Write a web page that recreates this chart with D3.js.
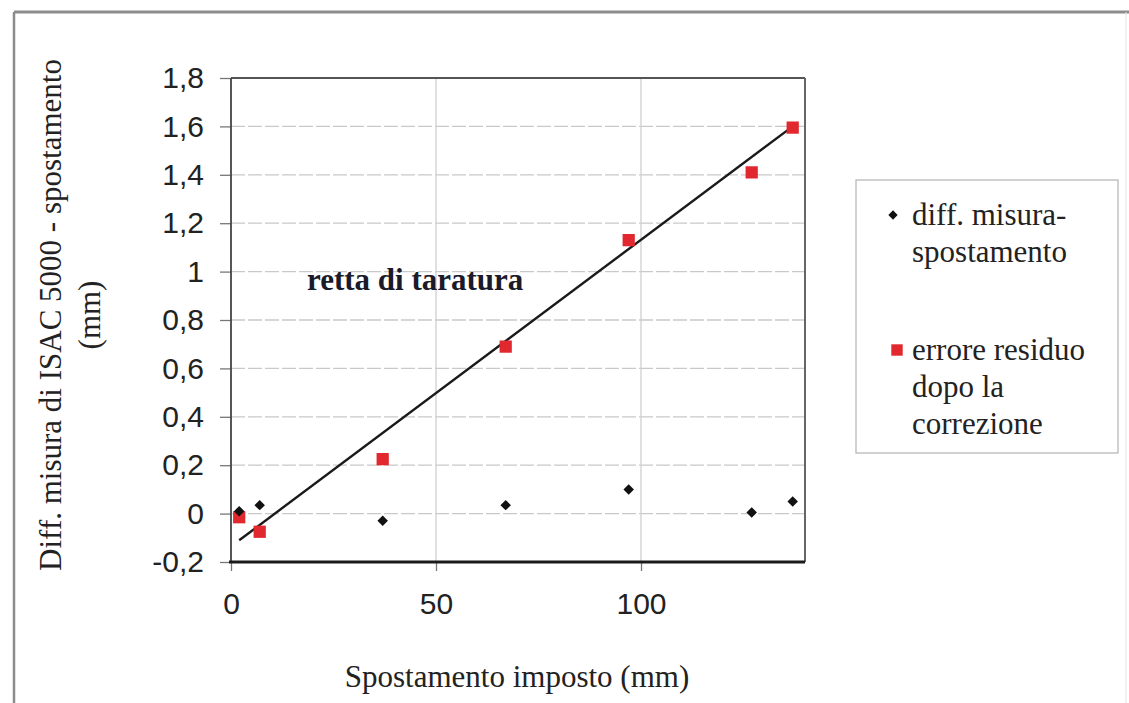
<!DOCTYPE html>
<html>
<head>
<meta charset="utf-8">
<script src="https://cdn.jsdelivr.net/npm/d3@7"></script>
<style>
  body { margin: 0; background: #fff; }
  svg { display: block; }
</style>
</head>
<body>
<div id="canvas"></div>
<script>
// data
var spostamento = [2, 7, 37, 67, 97, 127, 137];
var diffMisura = [0.01, 0.035, -0.03, 0.035, 0.1, 0.005, 0.05];
var erroreResiduo = [-0.015, -0.075, 0.225, 0.69, 1.13, 1.41, 1.595];
// retta di taratura, two end points
var rettaX = [2, 137];
var rettaY = [-0.11, 1.60];
var xTicks = [0, 50, 100];
var yTicks = [-0.2, 0, 0.2, 0.4, 0.6, 0.8, 1, 1.2, 1.4, 1.6, 1.8];
var legendLabels = [['diff. misura-', 'spostamento'], ['errore residuo', 'dopo la', 'correzione']];

var app = {
  W: 1129,
  H: 703,
  serif: '"Liberation Serif", "Times New Roman", serif',
  sans: '"Liberation Sans", Arial, sans-serif',
  red: '#e0282e',

  init: function() {
    app.svg = d3.select('#canvas').append('svg')
      .attr('width', app.W)
      .attr('height', app.H);

    app.x = d3.scaleLinear().domain([0, 140]).range([231, 805]);
    app.y = d3.scaleLinear().domain([-0.2, 1.8]).range([562, 78]);

    app.frame();
    app.grid();
    app.axes();
    app.marks();
    app.legend();
  },

  frame: function() {
    var s = app.svg;
    s.append('line').attr('x1', 14).attr('x2', 1129).attr('y1', 12).attr('y2', 12)
      .attr('stroke', '#8c8c8c').attr('stroke-width', 3);
    s.append('line').attr('x1', 14).attr('x2', 14).attr('y1', 12).attr('y2', 703)
      .attr('stroke', '#8c8c8c').attr('stroke-width', 2.5);
    s.append('line').attr('x1', 1126).attr('x2', 1126).attr('y1', 12).attr('y2', 703)
      .attr('stroke', '#e4e4e4').attr('stroke-width', 1);
  },

  grid: function() {
    var g = app.svg.append('g').attr('class', 'grid');
    g.selectAll('.hg').data(yTicks.slice(1, -1)).enter()
      .append('line').attr('class', 'hg')
      .attr('x1', app.x.range()[0]).attr('x2', app.x.range()[1])
      .attr('y1', function(d) { return app.y(d); })
      .attr('y2', function(d) { return app.y(d); })
      .attr('stroke', '#c9c9c9').attr('stroke-width', 1.3)
      .attr('stroke-dasharray', '14,3');
    g.selectAll('.vg').data(xTicks.slice(1)).enter()
      .append('line').attr('class', 'vg')
      .attr('y1', app.y.range()[0]).attr('y2', app.y.range()[1])
      .attr('x1', function(d) { return app.x(d); })
      .attr('x2', function(d) { return app.x(d); })
      .attr('stroke', '#cfcfcf').attr('stroke-width', 1.3);
  },

  axes: function() {
    var loc = d3.formatLocale({decimal: ',', thousands: '.', grouping: [3], currency: ['', ''], minus: '-'});
    var fmt = loc.format('.1~f');

    var yAxis = d3.axisLeft(app.y).tickValues(yTicks).tickFormat(fmt).tickSize(11).tickPadding(16);
    var gy = app.svg.append('g').attr('transform', 'translate(231,0)').call(yAxis);
    gy.select('.domain').remove();
    gy.selectAll('.tick line').attr('stroke', '#777').attr('stroke-width', 1.3);
    gy.selectAll('.tick text').attr('font-family', app.sans).attr('font-size', 30)
      .attr('fill', '#222');

    var xAxis = d3.axisBottom(app.x).tickValues(xTicks).tickSize(9).tickPadding(22);
    var gx = app.svg.append('g').attr('transform', 'translate(0,562)').call(xAxis);
    gx.select('.domain').remove();
    gx.selectAll('.tick line').attr('stroke', '#777').attr('stroke-width', 1.3);
    gx.selectAll('.tick text').attr('font-family', app.sans).attr('font-size', 30)
      .attr('fill', '#222');

    // plot border
    var x0 = app.x.range()[0], x1 = app.x.range()[1];
    var y0 = app.y.range()[1], y1 = app.y.range()[0];
    app.svg.append('line').attr('x1', x0).attr('x2', x1).attr('y1', y0).attr('y2', y0)
      .attr('stroke', '#555').attr('stroke-width', 2.2);
    app.svg.append('line').attr('x1', x1).attr('x2', x1).attr('y1', y0).attr('y2', y1)
      .attr('stroke', '#666').attr('stroke-width', 2);
    app.svg.append('line').attr('x1', x0).attr('x2', x0).attr('y1', y0).attr('y2', y1)
      .attr('stroke', '#444').attr('stroke-width', 1.8);
    app.svg.append('line').attr('x1', x0 - 2).attr('x2', x1).attr('y1', y1).attr('y2', y1)
      .attr('stroke', '#1a1a1a').attr('stroke-width', 3.2);

    // titles
    app.svg.append('text')
      .attr('x', 517).attr('y', 687)
      .attr('text-anchor', 'middle')
      .attr('font-family', app.serif).attr('font-size', 31).attr('fill', '#222')
      .text('Spostamento imposto (mm)');

    var yt = app.svg.append('g').attr('transform', 'translate(61,315) rotate(-90)');
    yt.append('text').attr('x', 0).attr('y', 0).attr('text-anchor', 'middle')
      .attr('font-family', app.serif).attr('font-size', 31).attr('fill', '#222')
      .text('Diff. misura di ISAC 5000 - spostamento');
    yt.append('text').attr('x', 0).attr('y', 39).attr('text-anchor', 'middle')
      .attr('font-family', app.serif).attr('font-size', 31).attr('fill', '#222')
      .text('(mm)');
  },

  marks: function() {
    var pts = spostamento.map(function(d, i) {
      return {x: d, diff: diffMisura[i], err: erroreResiduo[i]};
    });

    var retta = rettaX.map(function(d, i) { return [d, rettaY[i]]; });
    var line = d3.line()
      .x(function(d) { return app.x(d[0]); })
      .y(function(d) { return app.y(d[1]); });
    app.svg.append('path').datum(retta)
      .attr('d', line)
      .attr('fill', 'none').attr('stroke', '#1a1a1a').attr('stroke-width', 2.4);

    app.svg.selectAll('.err').data(pts).enter()
      .append('path').attr('class', 'err')
      .attr('d', d3.symbol(d3.symbolSquare, 150)())
      .attr('transform', function(d) { return 'translate(' + app.x(d.x) + ',' + app.y(d.err) + ')'; })
      .attr('fill', app.red);

    app.svg.selectAll('.diff').data(pts).enter()
      .append('path').attr('class', 'diff')
      .attr('d', d3.symbol(d3.symbolDiamond2, 70)())
      .attr('transform', function(d) { return 'translate(' + app.x(d.x) + ',' + app.y(d.diff) + ')'; })
      .attr('fill', '#111');

    app.svg.append('text')
      .attr('x', 307).attr('y', 290)
      .attr('font-family', app.serif).attr('font-weight', 'bold')
      .attr('font-size', 31).attr('fill', '#1a1a2a')
      .text('retta di taratura');
  },

  legend: function() {
    var lg = app.svg.append('g');
    lg.append('rect').attr('x', 856).attr('y', 180).attr('width', 262).attr('height', 273)
      .attr('fill', '#fff').attr('stroke', '#b8b8b8').attr('stroke-width', 1.3);

    var rowY = [215, 350];
    var syms = [
      {d: d3.symbol(d3.symbolDiamond2, 55)(), fill: '#111', x: 893},
      {d: d3.symbol(d3.symbolSquare, 130)(), fill: app.red, x: 897}
    ];
    legendLabels.forEach(function(lines, i) {
      lg.append('path').attr('d', syms[i].d)
        .attr('transform', 'translate(' + syms[i].x + ',' + rowY[i] + ')')
        .attr('fill', syms[i].fill);
      lg.selectAll('.l' + i).data(lines).enter()
        .append('text')
        .attr('x', 912)
        .attr('y', function(d, j) { return rowY[i] + 10 + j * 37; })
        .attr('font-family', app.serif).attr('font-size', 31).attr('fill', '#222')
        .text(function(d) { return d; });
    });
  }
};

app.init();
</script>
</body>
</html>
